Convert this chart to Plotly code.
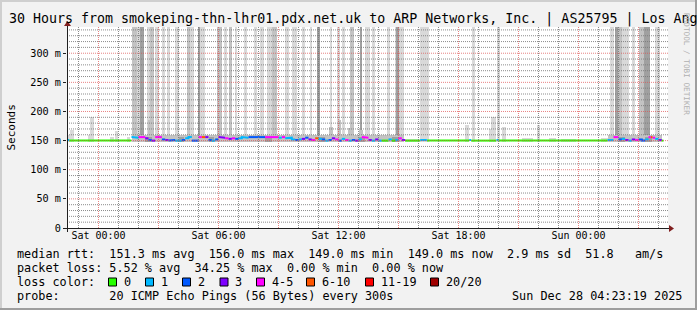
import plotly.graph_objects as go

# ---------------- data ----------------
# time = minutes since Sat 27 Dec 2025 00:00, values = milliseconds
x_tick_vals = [0, 360, 720, 1080, 1440]
x_tick_text = ["Sat 00:00", "Sat 06:00", "Sat 12:00", "Sat 18:00", "Sun 00:00"]
y_tick_vals = [0, 50, 100, 150, 200, 250, 300]
y_tick_text = ["0", "50 m", "100 m", "150 m", "200 m", "250 m", "300 m"]

loss_labels = ["0", "1", "2", "3", "4-5", "6-10", "11-19", "20/20"]
loss_upper = [0, 1, 2, 3, 5, 10, 19, 20]
loss_colors = ["#26ff00", "#00b8ff", "#0059ff", "#7e00ff",
               "#ff00ff", "#ff5500", "#ff0000", "#a00000"]

# median rtt, step data: value holds from its start until the next start
med_start = [-93, -88, 99, 110, 120, 130, 140, 150, 160, 170, 180, 190, 200, 210,
             220, 230, 240, 250, 260, 270, 280, 290, 300, 310, 320, 330, 340, 350,
             360, 370, 380, 390, 400, 410, 420, 430, 440, 450, 460, 470, 480, 490,
             500, 510, 520, 530, 540, 550, 560, 570, 580, 590, 600, 610, 620, 630,
             640, 650, 660, 670, 680, 690, 700, 710, 720, 730, 740, 750, 760, 770,
             780, 790, 800, 810, 820, 830, 840, 850, 870, 880, 890, 900, 910, 920,
             965, 985, 1112, 1118, 1194, 1200, 1527, 1545, 1560, 1570, 1580, 1590,
             1600, 1610, 1620, 1630, 1640, 1650, 1657, 1662, 1670, 1680, 1690]
med_ms = [151, 150, 156, 155, 156, 156, 154, 151, 150, 156, 156, 152, 151, 150,
          151, 150, 150, 151, 154, 156, 150, 150, 156, 156, 156, 151, 150, 152,
          156, 155, 154, 153, 154, 153, 154, 156, 155, 156, 156, 156, 156, 156,
          156, 156, 156, 156, 155, 156, 154, 155, 152, 151, 152, 153, 155, 152,
          151, 154, 153, 152, 150, 151, 154, 152, 150, 153, 151, 150, 151, 150,
          152, 156, 155, 151, 150, 152, 150, 150, 152, 150, 151, 154, 151, 150,
          151, 150, 151, 150, 151, 150, 151, 156, 152, 153, 151, 150,
          152, 151, 152, 150, 152, 156, 156, 155, 153, 151, 150]
med_loss = [1, 0, 1, 1, 4, 4, 3, 2, 3, 4, 5, 2, 3, 2,
            2, 1, 1, 2, 1, 1, 2, 2, 4, 7, 3, 2, 1, 2,
            3, 3, 4, 3, 5, 2, 1, 1, 1, 2, 2, 2, 2, 2,
            4, 5, 4, 4, 1, 4, 1, 1, 1, 2, 1, 3, 2, 3,
            4, 6, 1, 2, 1, 2, 3, 4, 2, 1, 4, 1, 2, 3,
            1, 4, 5, 3, 1, 3, 1, 0, 1, 0, 1, 4, 3, 0,
            1, 0, 1, 0, 1, 0, 1, 4, 2, 1, 3, 1,
            3, 4, 2, 2, 1, 4, 7, 5, 1, 3, 0]
med_end = 1695

smoke_floor_ms = 148
smoke_ceiling_ms = 600   # pings far above the visible range

# tall smoke columns (some pings far above the plot)
tall_t0 = [100, 115, 125, 145, 155, 170, 190, 205, 230, 265, 275, 300, 305, 355,
           375, 390, 410, 435, 465, 485, 505, 520, 560, 580, 610, 635, 655, 695,
           715, 730, 755, 785, 800, 820, 865, 890, 895, 900, 965, 980, 1120, 1195,
           1535, 1548, 1557, 1570, 1600, 1620, 1635, 1670]
tall_t1 = [115, 125, 135, 155, 165, 180, 200, 215, 240, 275, 285, 305, 320, 370,
           385, 400, 415, 445, 475, 495, 520, 535, 570, 595, 620, 640, 665, 700,
           725, 740, 765, 790, 815, 830, 875, 895, 900, 915, 980, 990, 1128, 1203,
           1545, 1557, 1570, 1590, 1610, 1635, 1653, 1685]
tall_shade = ["M", "L", "D", "L", "M", "L", "L", "L", "L", "M", "L", "D", "L", "M",
              "L", "M", "L", "L", "L", "L", "L", "M", "L", "L", "L", "L", "D", "L",
              "L", "L", "M", "D", "L", "L", "L", "L", "D", "L", "L", "L", "L", "L",
              "L", "D", "M", "L", "L", "M", "D", "L"]

# short smoke columns
short_t0 = [-93, -85, -30, -25, 35, 50, 85, 147, 690, 717, 747, 780,
            920, 1100, 1170, 1176, 1209, 1269, 1314, 1350, 1386, 1506]
short_t1 = [-85, -75, -25, -15, 45, 57, 95, 156, 702, 726, 762, 792,
            960, 1110, 1176, 1191, 1221, 1302, 1323, 1371, 1431, 1527]
short_top = [160, 169, 160, 191, 157, 166, 156, 186, 174, 186, 172, 169,
             153, 177, 170, 191, 174, 155, 177, 154, 153, 155]
short_shade = ["L", "L", "L", "L", "L", "L", "L", "M", "M", "M", "M", "M",
               "L", "L", "L", "L", "L", "L", "L", "L", "L", "L"]

# dense smoke right around the median during the lossy periods
core_t0 = [99, 140, 240, 330, 500, 660, 780, 880, 1527, 1560, 1640]
core_t1 = [915, 160, 255, 345, 520, 680, 800, 900, 1690, 1580, 1660]
core_lo = [147, 148, 148, 148, 148, 148, 148, 148, 147, 148, 148]
core_hi = [159, 157, 156, 157, 156, 156, 157, 156, 159, 157, 157]
core_shade = ["M", "D", "D", "D", "D", "D", "D", "D", "M", "D", "D"]

title_text = "30 Hours from smokeping-thn-lhr01.pdx.net.uk to ARP Networks, Inc. | AS25795 | Los Ang"
stat_lines = [
    "median rtt:  151.3 ms avg  156.0 ms max  149.0 ms min  149.0 ms now  2.9 ms sd  51.8   am/s",
    "packet loss: 5.52 % avg  34.25 % max  0.00 % min  0.00 % now",
    "loss color:",
    "probe:       20 ICMP Echo Pings (56 Bytes) every 300s",
]
stamp_text = "Sun Dec 28 04:23:19 2025"

# ---------------- style / layout ----------------
W, H = 697, 310
PL, PR, PT, PB = 67, 668, 27, 228
X_RANGE = [-94.5, 1708.5]
Y_RANGE = [0, 345]
MONO = "DejaVu Sans Mono"
BACK, SHADEA, SHADEB = "#F2F2F2", "#CFCFCF", "#9E9E9E"
GRID, MGRID = "rgba(120,120,120,0.85)", "rgba(222,79,79,0.7)"
ARROW, AXIS = "#801F1F", "#1F1F1F"
SHADES = {"L": "#d9d9d9", "M": "#c3c3c3", "D": "#a0a0a0"}


def fx(px):
    return (px - PL) / (PR - PL)


def fy(py):
    return (PB - py) / (PB - PT)


def loss_bin(n):
    for b, up in enumerate(loss_upper):
        if n <= up:
            return b
    return len(loss_upper) - 1


fig = go.Figure()


def add_bars(t0s, t1s, los, his, shades):
    for s in ["L", "M", "D"]:
        idx = [i for i in range(len(t0s)) if shades[i] == s]
        if not idx:
            continue
        fig.add_trace(go.Bar(
            x=[(t0s[i] + t1s[i]) / 2 for i in idx],
            width=[t1s[i] - t0s[i] for i in idx],
            base=[los[i] for i in idx],
            y=[his[i] - los[i] for i in idx],
            marker=dict(color=SHADES[s], line=dict(width=0)),
            hoverinfo="skip", showlegend=False))


add_bars(tall_t0, tall_t1, [smoke_floor_ms] * len(tall_t0),
         [smoke_ceiling_ms] * len(tall_t0), tall_shade)
add_bars(short_t0, short_t1, [smoke_floor_ms] * len(short_t0), short_top, short_shade)
add_bars(core_t0, core_t1, core_lo, core_hi, core_shade)

# median line coloured by loss
n = len(med_start)
for b in range(len(loss_labels)):
    xs, ys = [], []
    for i in range(n):
        if loss_bin(med_loss[i]) != b:
            continue
        t0 = med_start[i]
        t1 = med_start[i + 1] if i + 1 < n else med_end
        if xs and xs[-1] is not None and xs[-1] != t0:
            xs.append(None)
            ys.append(None)
        xs += [t0, t1]
        ys += [med_ms[i], med_ms[i]]
    if xs:
        fig.add_trace(go.Scatter(x=xs, y=ys, mode="lines",
                                 line=dict(color=loss_colors[b], width=2),
                                 hoverinfo="skip", showlegend=False))

shapes = []
# grid (drawn over the graph, like rrdtool)
for t in range(-60, 1700, 60):
    if t % 180 != 0:
        shapes.append(dict(type="line", xref="x", yref="paper", x0=t, x1=t, y0=0, y1=1,
                           line=dict(color=GRID, width=1, dash="1px,1px"), layer="above"))
for v in range(10, 345, 10):
    if v % 50 != 0:
        shapes.append(dict(type="line", xref="paper", yref="y", x0=0, x1=1, y0=v, y1=v,
                           line=dict(color=GRID, width=1, dash="1px,1px"), layer="above"))
for t in range(0, 1700, 180):
    shapes.append(dict(type="line", xref="x", yref="paper", x0=t, x1=t, y0=0, y1=1,
                       line=dict(color=MGRID, width=1, dash="1px,1px"), layer="above"))
for v in range(50, 345, 50):
    shapes.append(dict(type="line", xref="paper", yref="y", x0=0, x1=1, y0=v, y1=v,
                       line=dict(color=MGRID, width=1, dash="1px,1px"), layer="above"))

# axes with arrows
shapes.append(dict(type="line", xref="paper", yref="paper", x0=fx(63), x1=fx(670),
                   y0=fy(228.5), y1=fy(228.5), line=dict(color=AXIS, width=1), layer="above"))
shapes.append(dict(type="line", xref="paper", yref="paper", x0=fx(67.5), x1=fx(67.5),
                   y0=fy(232), y1=fy(24), line=dict(color=AXIS, width=1), layer="above"))
shapes.append(dict(type="path", xref="paper", yref="paper", layer="above",
                   path=f"M {fx(669)} {fy(225)} L {fx(674)} {fy(228.5)} L {fx(669)} {fy(232)} Z",
                   fillcolor=ARROW, line=dict(color=ARROW, width=0)))
shapes.append(dict(type="path", xref="paper", yref="paper", layer="above",
                   path=f"M {fx(64)} {fy(26)} L {fx(67.5)} {fy(21)} L {fx(71)} {fy(26)} Z",
                   fillcolor=ARROW, line=dict(color=ARROW, width=0)))

# 3d border
for (x0, y0, x1, y1, c) in [(0, 0, W, 2, SHADEA), (0, 0, 2, H, SHADEA),
                            (0, H - 2, W, H, SHADEB), (W - 2, 0, W, H, SHADEB)]:
    shapes.append(dict(type="rect", xref="paper", yref="paper", x0=fx(x0), x1=fx(x1),
                       y0=fy(y0), y1=fy(y1), fillcolor=c, line=dict(width=0), layer="above"))

# legend boxes
box_left_px = [108.5, 145.5, 182.5, 220, 256.5, 306.5, 365.5, 430.5]
for i, c in enumerate(loss_colors):
    shapes.append(dict(type="rect", xref="paper", yref="paper",
                       x0=fx(box_left_px[i]), x1=fx(box_left_px[i] + 8),
                       y0=fy(278), y1=fy(286), fillcolor=c,
                       line=dict(color="#000000", width=1), layer="above"))

ann = []
NB = "\u00a0"
ann.append(dict(text=title_text.replace(" ", NB), xref="paper", yref="paper",
                x=fx(7.5), y=fy(19), xanchor="left", yanchor="middle", showarrow=False,
                borderpad=0, font=dict(family=MONO, size=13.3, color="#000000")))
ann.append(dict(text="Seconds", xref="paper", yref="paper", x=fx(10.5), y=fy(128),
                xanchor="center", yanchor="middle", showarrow=False, textangle=-90,
                borderpad=0, font=dict(family=MONO, size=11, color="#000000")))
ann.append(dict(text="RRDTOOL / TOBI OETIKER".replace(" ", NB), xref="paper", yref="paper",
                x=fx(687), y=fy(64), xanchor="center", yanchor="middle", showarrow=False,
                textangle=90, borderpad=0, font=dict(family=MONO, size=7.7, color="#b0b0b0")))
for k, line in enumerate(stat_lines):
    ann.append(dict(text=line.replace(" ", NB), xref="paper", yref="paper",
                    x=fx(15.5), y=fy(254 + 14 * k), xanchor="left", yanchor="middle",
                    showarrow=False, borderpad=0,
                    font=dict(family=MONO, size=11.8, color="#000000")))
for i, lab in enumerate(loss_labels):
    ann.append(dict(text=lab, xref="paper", yref="paper", x=fx(box_left_px[i] + 14.3),
                    y=fy(282), xanchor="left", yanchor="middle", showarrow=False,
                    borderpad=0, font=dict(family=MONO, size=11.8, color="#000000")))
ann.append(dict(text=stamp_text.replace(" ", NB), xref="paper", yref="paper",
                x=fx(683), y=fy(296), xanchor="right", yanchor="middle", showarrow=False,
                borderpad=0, font=dict(family=MONO, size=11.8, color="#000000")))

fig.update_layout(
    width=W, height=H, margin=dict(l=PL, r=W - PR, t=PT, b=H - PB, pad=0),
    paper_bgcolor=BACK, plot_bgcolor="#FFFFFF", barmode="overlay", bargap=0,
    showlegend=False, shapes=shapes, annotations=ann,
    xaxis=dict(range=X_RANGE, tickvals=x_tick_vals, ticktext=x_tick_text,
               showgrid=False, zeroline=False, showline=False, ticks="",
               tickfont=dict(family=MONO, size=10, color="#000000"), fixedrange=True),
    yaxis=dict(range=Y_RANGE, tickvals=y_tick_vals, ticktext=y_tick_text,
               showgrid=False, zeroline=False, showline=False, ticks="outside",
               ticklen=3, tickcolor=AXIS, tickwidth=1,
               tickfont=dict(family=MONO, size=10.2, color="#000000"), fixedrange=True),
)

fig.write_html("out.html", config={"displayModeBar": False})
